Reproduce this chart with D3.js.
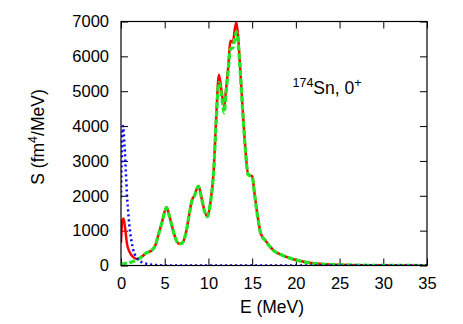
<!DOCTYPE html>
<html>
<head>
<meta charset="utf-8">
<script src="https://cdn.jsdelivr.net/npm/d3@7"></script>
<style>
  html, body { margin: 0; padding: 0; background: #fff; }
  svg { display: block; font-family: "Liberation Sans", Arial, Helvetica, sans-serif; }
</style>
</head>
<body>
<svg id="chart" width="463" height="324"></svg>
<script>
// ---- data ----
const energy = [0, 0.15, 0.3, 0.5, 0.7, 1.0, 1.4, 1.8, 2.2, 2.9, 3.5, 3.9, 4.3, 4.7, 5.0, 5.2, 5.5, 5.8, 6.2, 6.6, 7.0, 7.4, 7.8, 8.1, 8.4, 8.85, 9.2, 9.5, 9.9, 10.2, 10.6, 10.9, 11.2, 11.5, 11.8, 12.0, 12.3, 12.5, 12.8, 13.0, 13.2, 13.4, 13.6, 13.9, 14.2, 14.55, 15.0, 15.3, 15.6, 16.0, 16.5, 17.0, 17.5, 18.4, 19.0, 19.7, 20.5, 21.2, 22.0, 23.0, 25.0, 27.0, 30.0, 35.0];
const redStrength = [650, 1300, 1350, 1000, 600, 380, 240, 190, 220, 360, 430, 560, 900, 1250, 1550, 1670, 1460, 1160, 810, 625, 645, 910, 1460, 1860, 2010, 2280, 1960, 1610, 1410, 1760, 2720, 4300, 5470, 5000, 4560, 5000, 5800, 6450, 6400, 6750, 6980, 6550, 5800, 4560, 3430, 2610, 2560, 2010, 1460, 905, 725, 555, 425, 300, 240, 180, 130, 90, 65, 40, 20, 10, 5, 0];
const greenStrength = [40, 45, 50, 60, 70, 90, 115, 160, 220, 360, 430, 560, 900, 1250, 1550, 1660, 1450, 1150, 800, 620, 640, 900, 1450, 1850, 2000, 2270, 1950, 1600, 1400, 1750, 2700, 4200, 5250, 4900, 4380, 4900, 5700, 6200, 6250, 6500, 6700, 6400, 5700, 4500, 3400, 2600, 2550, 2000, 1450, 900, 720, 550, 420, 300, 240, 180, 130, 90, 65, 40, 20, 10, 5, 0];
const blueEnergy = [0, 0.1, 0.22, 0.4, 0.55, 0.7, 0.85, 1.0, 1.2, 1.4, 1.7, 2.0, 2.5, 3.0, 4.0, 5.0, 35.0];
const blueStrength = [1950, 3300, 4000, 3450, 2700, 1950, 1450, 1050, 700, 450, 260, 160, 80, 45, 15, 0, 0];
const xTicks = [0, 5, 10, 15, 20, 25, 30, 35];
const yTicks = [0, 1000, 2000, 3000, 4000, 5000, 6000, 7000];

// ---- layout ----
const margin = { left: 121, top: 21.5, right: 36, bottom: 58.5 };
const W = 463, H = 324;
const w = W - margin.left - margin.right;
const h = H - margin.top - margin.bottom;

const svg = d3.select("#chart");
const g = svg.append("g").attr("transform", `translate(${margin.left},${margin.top})`);

const x = d3.scaleLinear().domain([0, 35]).range([0, w]);
const y = d3.scaleLinear().domain([0, 7000]).range([h, 0]);

const tick = 7;
const fmt = d3.format("d");
// axes with inward ticks
const axB = g.append("g").attr("transform", `translate(0,${h})`)
  .call(d3.axisBottom(x).tickValues(xTicks).tickFormat(fmt).tickSizeInner(-tick).tickSizeOuter(0).tickPadding(12));
const axT = g.append("g")
  .call(d3.axisTop(x).tickValues(xTicks).tickSizeInner(-tick).tickSizeOuter(0).tickFormat(""));
const axL = g.append("g")
  .call(d3.axisLeft(y).tickValues(yTicks).tickFormat(fmt).tickSizeInner(-tick).tickSizeOuter(0).tickPadding(12));
const axR = g.append("g").attr("transform", `translate(${w},0)`)
  .call(d3.axisRight(y).tickValues(yTicks).tickSizeInner(-tick).tickSizeOuter(0).tickFormat(""));
[axB, axT, axL, axR].forEach(a => {
  a.select(".domain").remove();
  a.selectAll("line").attr("stroke", "#000").attr("stroke-width", 1);
  a.selectAll("text").attr("font-size", 16.5).attr("fill", "#000")
    .attr("font-family", '"Liberation Sans", Arial, sans-serif');
});

// curves
const clip = g.append("clipPath").attr("id", "clip").append("rect")
  .attr("x", 0).attr("y", -5).attr("width", w).attr("height", h + 5);
const plot = g.append("g").attr("clip-path", "url(#clip)");

const line = (xs) => d3.line()
  .x((d, i) => x(xs[i]))
  .y(d => y(d))
  .curve(d3.curveMonotoneX);

plot.append("path").datum(redStrength)
  .attr("d", line(energy)).attr("fill", "none")
  .attr("stroke", "#ff0000").attr("stroke-width", 2.5).attr("stroke-linejoin", "round");
plot.append("path").datum(greenStrength)
  .attr("d", line(energy)).attr("fill", "none")
  .attr("stroke", "#22e622").attr("stroke-width", 3.2).attr("stroke-dasharray", "6,2.5");
plot.append("path").datum(blueStrength)
  .attr("d", line(blueEnergy)).attr("fill", "none")
  .attr("stroke", "#0000ff").attr("stroke-width", 2.5).attr("stroke-dasharray", "2,3");

// frame
g.append("rect").attr("x", 0).attr("y", 0).attr("width", w).attr("height", h)
  .attr("fill", "none").attr("stroke", "#000").attr("stroke-width", 1.2);

// axis titles
svg.append("text").attr("x", 272).attr("y", 313).attr("text-anchor", "middle")
  .attr("font-size", 17.5).text("E (MeV)");
const yt = svg.append("text").attr("transform", "translate(44,137) rotate(-90)")
  .attr("text-anchor", "middle").attr("font-size", 17.5);
yt.append("tspan").text("S (fm");
yt.append("tspan").attr("font-size", 12.5).attr("dy", -7).text("4");
yt.append("tspan").attr("dy", 7).text("/MeV)");

// annotation
const ann = svg.append("text").attr("x", 292.5).attr("y", 94).attr("font-size", 17.5);
ann.append("tspan").attr("font-size", 12.5).attr("dy", -7).text("174");
ann.append("tspan").attr("dy", 7).text("Sn, 0");
ann.append("tspan").attr("font-size", 12.5).attr("dy", -7).text("+");
</script>
</body>
</html>
